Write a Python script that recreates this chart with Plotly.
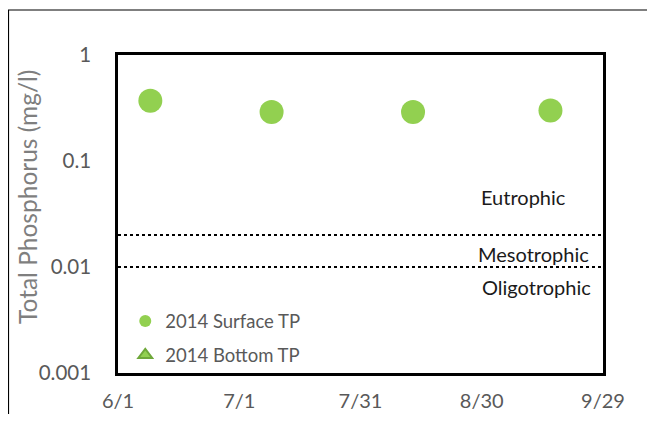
import plotly.graph_objects as go

# Data
surface_dates = ["2014-06-09", "2014-07-09", "2014-08-13", "2014-09-16"]
surface_tp = [0.37, 0.29, 0.29, 0.30]
bottom_dates = [None]
bottom_tp = [None]

threshold_dates = ["2014-06-01", "2014-09-29"]
meso_eu_limit = [0.02, 0.02]
oligo_meso_limit = [0.01, 0.01]

x_tick_vals = ["2014-06-01", "2014-07-01", "2014-07-31", "2014-08-30", "2014-09-29"]
x_tick_text = ["6/1", "7/1", "7/31", "8/30", "9/29"]
y_tick_vals = [0.001, 0.01, 0.1, 1]
y_tick_text = ["0.001", "0.01", "0.1", "1"]

GREEN = "#92D050"
GRAY = "#595959"
FONT = "Lato"

fig = go.Figure()

for yv in (meso_eu_limit, oligo_meso_limit):
    fig.add_trace(go.Scatter(
        x=threshold_dates, y=yv, mode="lines",
        line=dict(color="black", width=2, dash="dot"),
        showlegend=False, hoverinfo="skip"))

fig.add_trace(go.Scatter(
    x=surface_dates, y=surface_tp, mode="markers", name="2014 Surface TP",
    marker=dict(symbol="circle", size=24, color=GREEN),
    legendgroup="a"))
fig.add_trace(go.Scatter(
    x=bottom_dates, y=bottom_tp, mode="markers", name="2014 Bottom TP",
    marker=dict(symbol="triangle-up", size=14, color=GREEN,
                line=dict(color="#6FA83A", width=1)),
    legendgroup="b"))

fig.update_layout(
    width=639, height=406,
    margin=dict(l=110, r=44, t=47, b=41),
    paper_bgcolor="white", plot_bgcolor="white",
    font=dict(family=FONT, color=GRAY, size=20),
    showlegend=True,
    legend=dict(x=0.015, xanchor="left", y=0.222, yanchor="top",
                bgcolor="rgba(0,0,0,0)", font=dict(size=18.5, color=GRAY),
                itemsizing="constant", tracegroupgap=7,
                traceorder="grouped"),
    xaxis=dict(
        type="date", range=["2014-06-01", "2014-09-29"],
        tickvals=x_tick_vals, ticktext=x_tick_text, automargin=False,
        showgrid=False, zeroline=False,
        showline=True, linecolor="black", linewidth=2.5, mirror=True,
        ticks="outside", ticklen=8, tickcolor="rgba(0,0,0,0)",
        tickfont=dict(size=20, color=GRAY)),
    yaxis=dict(
        type="log", range=[-3, 0],
        tickvals=y_tick_vals, ticktext=y_tick_text, automargin=False,
        showgrid=False, zeroline=False,
        showline=True, linecolor="black", linewidth=2.5, mirror=True,
        ticks="outside", ticklen=20, tickcolor="rgba(0,0,0,0)",
        tickfont=dict(size=20.5, color=GRAY)),
    shapes=[dict(type="rect", xref="paper", yref="paper",
                 x0=-0.2258, x1=1.4, y0=-0.5, y1=1.1415,
                 line=dict(color="black", width=1.2), fillcolor="rgba(0,0,0,0)",
                 layer="below")],
    annotations=[
        dict(text="Total Phosphorus (mg/l)", xref="paper", yref="paper",
             x=(19 - 110) / 485, y=(365 - 189) / 318, textangle=-90,
             xanchor="center", yanchor="middle", showarrow=False,
             font=dict(size=24.5, color="#7f7f7f")),
        dict(text="Eutrophic", xref="paper", yref="paper", x=0.836, y=0.553,
             xanchor="center", yanchor="middle", showarrow=False,
             font=dict(size=20, color="#1a1a1a")),
        dict(text="Mesotrophic", xref="paper", yref="paper", x=0.975, y=0.374,
             xanchor="right", yanchor="middle", showarrow=False,
             font=dict(size=20, color="#1a1a1a")),
        dict(text="Oligotrophic", xref="paper", yref="paper", x=0.98, y=0.270,
             xanchor="right", yanchor="middle", showarrow=False,
             font=dict(size=20, color="#1a1a1a")),
    ],
)

fig.write_html("out.html")
